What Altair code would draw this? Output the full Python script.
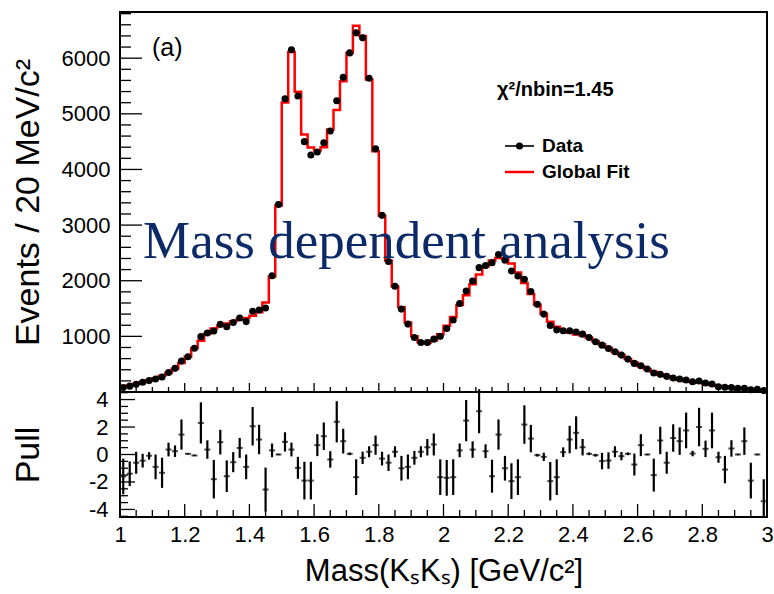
import altair as alt
import pandas as pd

# ---------------- data ----------------
mass = [round(1.01 + 0.02 * i, 2) for i in range(100)]  # bin centres, 20 MeV bins

events = [80, 105, 140, 175, 205, 235, 270, 350, 425, 555,
          635, 785, 995, 1060, 1095, 1215, 1175, 1250, 1330, 1265,
          1450, 1475, 1510, 2090, 3370, 5270, 6150, 5320, 4500, 4260,
          4315, 4480, 4690, 5235, 5655, 6095, 6455, 6365, 5640, 4370,
          3175, 2345, 1900, 1490, 1220, 980, 890, 890, 950, 1000,
          1140, 1295, 1590, 1815, 1995, 2235, 2275, 2325, 2470, 2370,
          2175, 2085, 2025, 1805, 1575, 1400, 1195, 1117, 1100, 1099,
          1080, 1040, 980, 902, 842, 783, 722, 663, 591, 514,
          472, 412, 340, 317, 281, 251, 233, 215, 185, 197,
          161, 143, 95, 84, 80, 66, 66, 40, 47, 25]

fit = [94, 119, 147, 181, 212, 249, 292, 343, 420, 520,
       634, 787, 923, 1048, 1140, 1190, 1229, 1270, 1305, 1330,
       1372, 1433, 1609, 2076, 3350, 5203, 6110, 5395, 4630, 4395,
       4340, 4400, 4720, 5068, 5587, 6095, 6585, 6400, 5615, 4325,
       3170, 2360, 1895, 1525, 1250, 1000, 895, 880, 925, 1040,
       1190, 1350, 1565, 1740, 1935, 2110, 2260, 2365, 2410, 2400,
       2310, 2150, 1960, 1760, 1570, 1405, 1262, 1172, 1100, 1065,
       1035, 1015, 975, 910, 856, 795, 720, 665, 592, 530,
       462, 410, 362, 315, 283, 245, 218, 195, 180, 165,
       150, 128, 108, 94, 78, 66, 58, 52, 47, 42]

pull = [-1.6, -1.4, -0.6, -0.45, -0.1, -0.9, -1.33, 0.36, 0.24, 1.45,
        0.05, -0.07, 2.3, 0.36, -1.8, 0.9, -1.58, -0.56, 0.48, -0.9,
        2.06, 1.09, -2.55, 0.3, 0.0, 0.92, 0.36, -0.97, -1.9, -1.9,
        0.68, 1.33, -0.36, 2.38, 0.97, 0.05, -1.65, -0.24, 0.2, 0.68,
        -0.3, -0.6, 0.2, -1.0, -0.9, -0.24, 0.2, 0.53, 0.73, -1.65,
        -1.7, -1.65, 0.3, 2.47, 0.36, 3.15, 0.24, -1.58, 1.45, -1.0,
        -1.94, -1.65, 2.18, 1.16, -0.05, -0.17, -1.94, -1.65, 0.17, 1.09,
        1.58, 0.53, 0.05, -0.05, -0.48, -0.44, 0.2, -0.12, 0.05, -0.73,
        0.68, 0.0, -1.5, 1.02, -0.6, 1.2, 0.97, 1.75, 0.07, 2.0,
        0.41, 1.75, -0.2, -1.1, 0.44, 0.0, 0.97, -1.9, 0.0, -3.4]

pull_err = [1.3, 0.9, 0.8, 0.5, 0.27, 0.9, 1.1, 0.5, 0.42, 1.1,
            0.05, 0.05, 1.5, 0.67, 1.4, 0.9, 1.15, 0.73, 0.73, 0.9,
            1.4, 1.07, 1.6, 0.5, 0.05, 0.7, 0.5, 0.8, 1.37, 1.37,
            0.8, 1.0, 0.6, 1.5, 0.9, 0.1, 1.3, 0.45, 0.4, 0.7,
            0.5, 0.6, 0.4, 0.9, 0.9, 0.5, 0.4, 0.6, 0.8, 1.3,
            1.3, 1.3, 0.5, 1.5, 0.6, 1.6, 0.5, 1.2, 1.1, 0.9,
            1.3, 1.3, 1.4, 1.0, 0.1, 0.3, 1.4, 1.3, 0.35, 1.0,
            1.2, 0.6, 0.1, 0.1, 0.6, 0.6, 0.4, 0.3, 0.1, 0.8,
            0.8, 0.05, 1.2, 1.0, 0.8, 1.0, 1.0, 1.3, 0.2, 1.4,
            0.6, 1.3, 0.4, 1.0, 0.6, 0.05, 1.0, 1.3, 0.05, 1.6]

top_y_labels = [1000, 2000, 3000, 4000, 5000, 6000]
pull_y_labels = [-4, -2, 0, 2, 4]
x_labels = [1, 1.2, 1.4, 1.6, 1.8, 2, 2.2, 2.4, 2.6, 2.8, 3]

# ---------------- layout ----------------
W, H = 647, 505
TOP_H = 380
FONT = "Liberation Sans"

df = pd.DataFrame({
    "mass": mass, "events": events, "pull": pull,
    "lo": [p - e for p, e in zip(pull, pull_err)],
    "hi": [p + e for p, e in zip(pull, pull_err)],
})
edges = [round(1.0 + 0.02 * i, 2) for i in range(101)]
step_df = pd.DataFrame({"edge": edges, "fit": fit + [fit[-1]]})

xs = alt.Scale(domain=[1, 3], nice=False, zero=False)
ys_top = alt.Scale(domain=[0, 6830], range=[TOP_H, 0], nice=False, zero=False)
ys_pull = alt.Scale(domain=[-4.55, 4.55], range=[H, TOP_H], nice=False, zero=False)

x_axis = alt.Axis(
    orient="bottom", values=x_labels, title="Mass(KₛKₛ) [GeV/c²]",
    ticks=False, tickSize=0, domain=False, grid=False,
    labelFont=FONT, labelFontSize=22, labelColor="black", labelPadding=7,
    labelExpr="datum.value + ''", labelFlush=False,
    titleFont=FONT, titleFontSize=31, titleFontWeight="normal",
    titleColor="black", titlePadding=11,
)


def X(field):
    return alt.X(field, type="quantitative", scale=xs, axis=x_axis)


one = pd.DataFrame({"a": [0]})

fit_line = alt.Chart(step_df).mark_line(
    interpolate="step-after", color="#ff0000", strokeWidth=2.5
).encode(
    x=X("edge"),
    y=alt.Y("fit:Q", scale=ys_top, axis=None),
)

points = alt.Chart(df).mark_circle(size=50, color="black", opacity=1).encode(
    x=X("mass"),
    y=alt.Y("events:Q", scale=ys_top, axis=alt.Axis(
        orient="left", values=top_y_labels, title="Events / 20 MeV/c²",
        ticks=False, tickSize=0, domain=False, grid=False,
        labelFont=FONT, labelFontSize=22, labelColor="black", labelPadding=10,
        labelExpr="datum.value + ''",
        titleFont=FONT, titleFontSize=34, titleFontWeight="normal",
        titleColor="black", titleX=-82, titleBaseline="alphabetic",
    )),
)

pull_v = alt.Chart(df).mark_rule(color="black", strokeWidth=2.2, clip=True).encode(
    x=X("mass"),
    y=alt.Y("lo:Q", scale=ys_pull, axis=alt.Axis(
        orient="left", values=pull_y_labels, title="Pull",
        ticks=False, tickSize=0, domain=False, grid=False,
        labelFont=FONT, labelFontSize=22, labelColor="black", labelPadding=12,
        labelExpr="datum.value + ''",
        titleFont=FONT, titleFontSize=34, titleFontWeight="normal",
        titleColor="black", titleX=-82, titleBaseline="alphabetic",
    )),
    y2="hi:Q",
)

pull_h = alt.Chart(df).mark_tick(
    orient="horizontal", size=6, thickness=2, color="black", clip=True
).encode(
    x=X("mass"),
    y=alt.Y("pull:Q", scale=ys_pull, axis=None),
)

separator = alt.Chart(one).mark_rule(color="black", strokeWidth=2).encode(
    x=alt.value(0), x2=alt.value(W), y=alt.value(TOP_H)
)


def yticks(vals, scale, length):
    return alt.Chart(pd.DataFrame({"v": vals})).mark_rule(
        color="black", strokeWidth=1.3
    ).encode(
        y=alt.Y("v:Q", scale=scale, axis=None),
        x=alt.value(0), x2=alt.value(length),
    )


def xticks(vals, base, length):
    return alt.Chart(pd.DataFrame({"v": vals})).mark_rule(
        color="black", strokeWidth=1.3
    ).encode(
        x=X("v"),
        y=alt.value(base), y2=alt.value(base - length),
    )


top_major = [0, 1000, 2000, 3000, 4000, 5000, 6000]
top_minor = [v for v in range(200, 6830, 200) if v % 1000]
x_minor = [round(1 + 0.05 * i, 2) for i in range(41) if i % 4]
pull_major = [-4, -2, 0, 2, 4]
pull_minor = [k / 2 for k in range(-9, 10) if k % 4]

tick_layers = [
    yticks(top_major, ys_top, 22), yticks(top_minor, ys_top, 11),
    yticks(pull_major, ys_pull, 15), yticks(pull_minor, ys_pull, 8),
    xticks(x_labels, TOP_H, 9), xticks(x_minor, TOP_H, 5),
    xticks(x_labels, H, 13), xticks(x_minor, H, 7),
]


def label(text, x, y, size, weight="normal", font=FONT, color="black",
          align="left", baseline="middle"):
    return alt.Chart(one).mark_text(
        text=text, font=font, fontSize=size, fontWeight=weight, color=color,
        align=align, baseline=baseline,
    ).encode(x=alt.value(x), y=alt.value(y))


panel_a = label("(a)", 32, 36, 25)
chi2 = label("χ²/nbin=1.45", 377, 78, 20, weight="bold")
leg_data_line = alt.Chart(one).mark_rule(color="black", strokeWidth=1.6).encode(
    x=alt.value(385), x2=alt.value(414), y=alt.value(134))
leg_data_dot = alt.Chart(one).mark_circle(size=50, color="black", opacity=1).encode(
    x=alt.value(399.5), y=alt.value(134))
leg_data_txt = label("Data", 422, 134, 19, weight="bold")
leg_fit_line = alt.Chart(one).mark_rule(color="#ff0000", strokeWidth=2.5).encode(
    x=alt.value(385), x2=alt.value(414), y=alt.value(160))
leg_fit_txt = label("Global Fit", 422, 160, 19, weight="bold")
overlay = label("Mass dependent analysis", 23, 246, 53, font="Liberation Serif",
                color="#0c2a67", baseline="alphabetic")

chart = alt.layer(
    *tick_layers, fit_line, points, pull_v, pull_h, separator,
    panel_a, chi2, leg_data_line, leg_data_dot, leg_data_txt,
    leg_fit_line, leg_fit_txt, overlay,
).resolve_scale(y="independent").resolve_axis(y="independent").properties(
    width=W, height=H,
    autosize=alt.AutoSizeParams(type="none"),
    padding={"left": 120, "top": 12, "right": 7, "bottom": 77},
    background="white",
).configure_view(stroke="black", strokeWidth=2)

chart.save("out.html", embed_options={"renderer": "svg", "actions": False})
